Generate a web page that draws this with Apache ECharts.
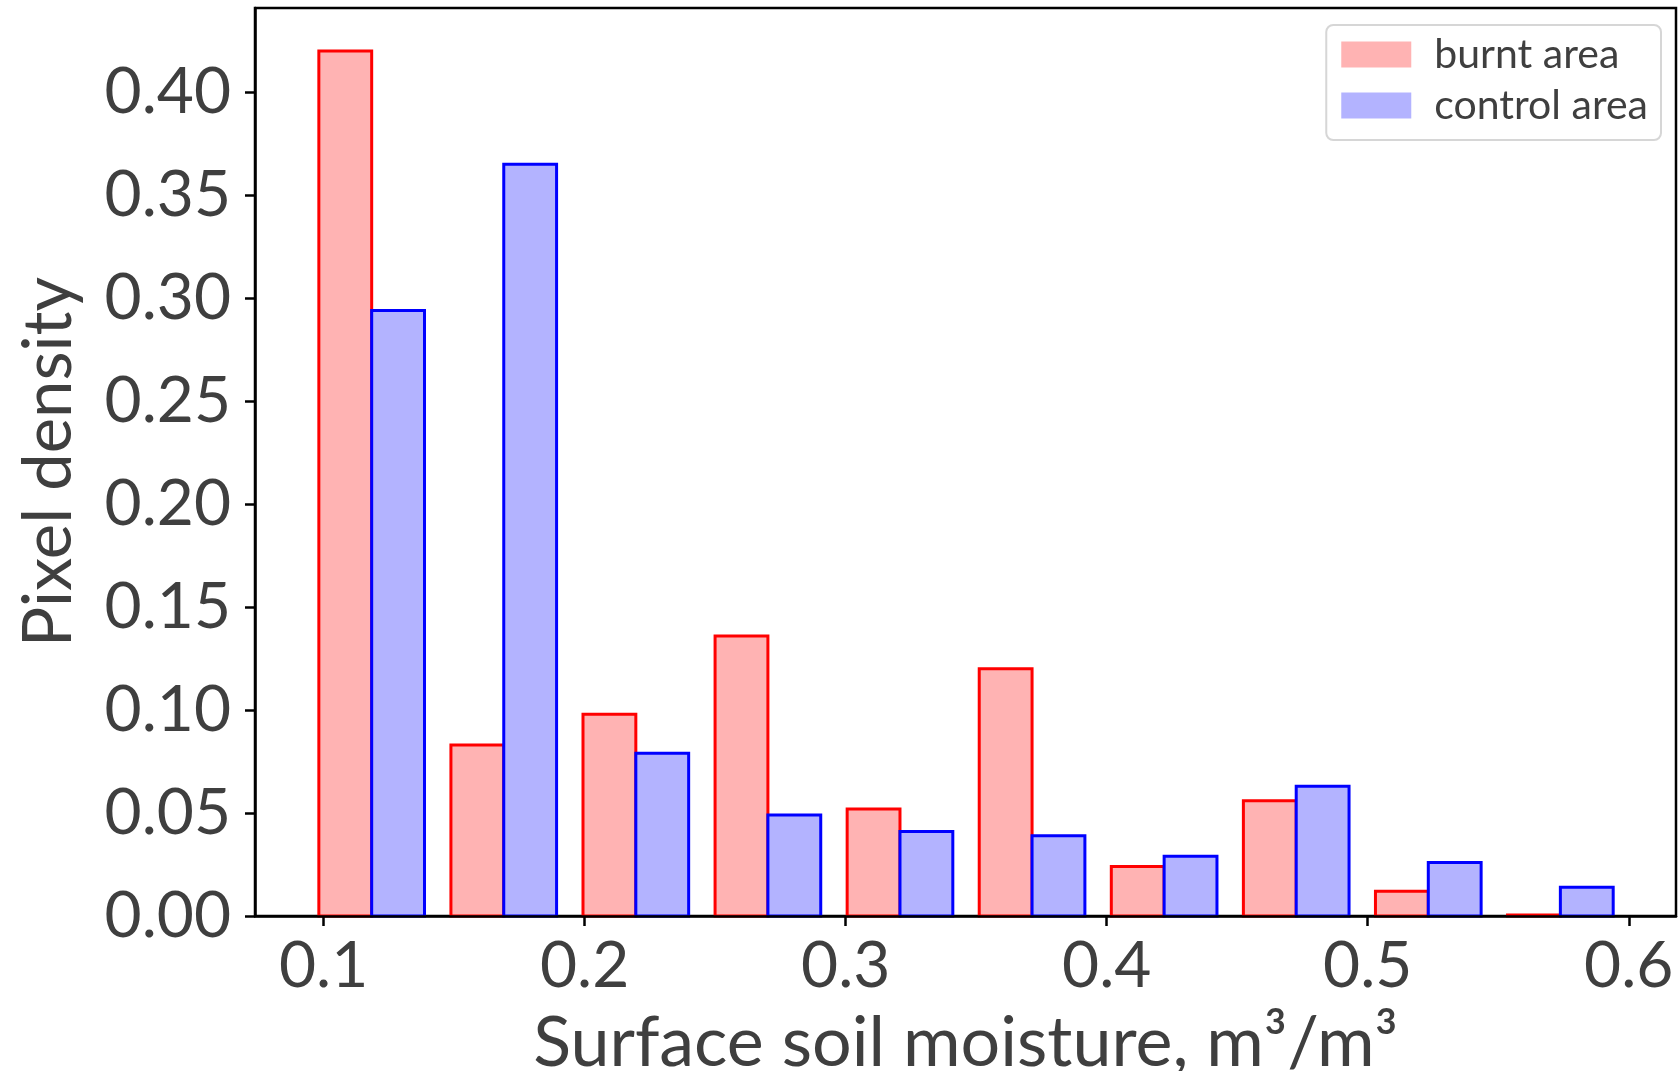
<!DOCTYPE html>
<html>
<head>
<meta charset="utf-8">
<script src="https://cdn.jsdelivr.net/npm/echarts@6/dist/echarts.min.js"></script>
<style>
  html, body { margin: 0; padding: 0; background: #fff; }
  #chart { width: 1679px; height: 1071px; }
</style>
</head>
<body>
<div id="chart"></div>
<script>
// Histogram bin edges (surface soil moisture, m3/m3)
const binEdges = [0.0931, 0.1437, 0.1943, 0.2449, 0.2955, 0.3461, 0.3967, 0.4473, 0.4979, 0.5485, 0.5991];
// Fraction of pixels per bin
const burntArea   = [0.420, 0.083, 0.098, 0.136, 0.052, 0.120, 0.024, 0.056, 0.012, 0.0005];
const controlArea = [0.294, 0.365, 0.079, 0.049, 0.041, 0.039, 0.029, 0.063, 0.026, 0.014];
const seriesNames = ['burnt area', 'control area'];
const xTicks = [0.1, 0.2, 0.3, 0.4, 0.5, 0.6];
const yTicks = [0.00, 0.05, 0.10, 0.15, 0.20, 0.25, 0.30, 0.35, 0.40];

const TEXT = '#3f3f3f';
const FONT = 'Lato, "Noto Sans", sans-serif';
const fills = ['#ffb3b3', '#b3b3ff'];
const edges = ['#ff0000', '#0000ff'];
const EDGE_W = 3;

// Two side-by-side bars share 80% of each bin
const barFraction = 0.8;

function barData(values, slot) {
  return values.map((v, i) => {
    const lo = binEdges[i], hi = binEdges[i + 1];
    const w = hi - lo;
    const start = lo + w * (1 - barFraction) / 2 + slot * w * barFraction / 2;
    return [start, start + w * barFraction / 2, v];
  });
}

function makeSeries(name, values, slot) {
  return {
    name: name,
    type: 'custom',
    z: 2 + slot,
    itemStyle: { color: fills[slot], borderColor: edges[slot], borderWidth: EDGE_W },
    renderItem: function (params, api) {
      const p0 = api.coord([api.value(0), api.value(2)]);
      const p1 = api.coord([api.value(1), 0]);
      return {
        type: 'rect',
        shape: { x: p0[0], y: p0[1], width: p1[0] - p0[0], height: p1[1] - p0[1] },
        style: { fill: fills[slot], stroke: edges[slot], lineWidth: EDGE_W }
      };
    },
    encode: { x: [0, 1], y: 2 },
    data: barData(values, slot)
  };
}

const chart = echarts.init(document.getElementById('chart'));
chart.setOption({
  animation: false,
  backgroundColor: '#fff',
  textStyle: { fontFamily: FONT, color: TEXT },
  grid: {
    left: 255, right: 3, top: 8, bottom: 155,
    outerBoundsMode: 'none',
    containLabel: false,
    show: true, borderColor: '#000', borderWidth: 2.5, backgroundColor: 'transparent'
  },
  legend: {
    orient: 'vertical',
    right: 18, top: 25,
    icon: 'rect',
    itemWidth: 70, itemHeight: 26, itemGap: 10,
    padding: [9, 13, 14, 15],
    borderColor: '#d6d6d6', borderWidth: 2, borderRadius: 7,
    backgroundColor: '#fff',
    textStyle: { fontFamily: FONT, fontSize: 41, color: TEXT, padding: [0, 0, 0, 18] },
    data: seriesNames.map((n, i) => ({ name: n, itemStyle: { color: fills[i], borderWidth: 0 } }))
  },
  xAxis: {
    type: 'value',
    min: 0.0737, max: 0.6181,
    z: 10,
    name: 'Surface soil moisture, m\u00B3/m\u00B3',
    nameLocation: 'middle',
    nameGap: 92,
    nameTextStyle: { fontFamily: FONT, fontSize: 70, color: TEXT },
    axisLine: { show: true, onZero: false, lineStyle: { color: '#000', width: 2.5 } },
    axisTick: { show: true, inside: false, length: 10, lineStyle: { color: '#000', width: 2.5 }, customValues: xTicks },
    axisLabel: { customValues: xTicks, margin: 18, fontFamily: FONT, fontSize: 64, color: TEXT,
      formatter: v => v.toFixed(1) },
    splitLine: { show: false }
  },
  yAxis: {
    type: 'value',
    min: 0, max: 0.4409,
    z: 10,
    name: 'Pixel density',
    nameLocation: 'middle',
    nameGap: 172,
    nameTextStyle: { fontFamily: FONT, fontSize: 67, color: TEXT },
    axisLine: { show: true, lineStyle: { color: '#000', width: 2.5 } },
    axisTick: { show: true, inside: false, length: 10, lineStyle: { color: '#000', width: 2.5 }, customValues: yTicks },
    axisLabel: { customValues: yTicks, margin: 24, fontFamily: FONT, fontSize: 64, color: TEXT,
      formatter: v => v.toFixed(2) },
    splitLine: { show: false }
  },
  series: [
    makeSeries(seriesNames[0], burntArea, 0),
    makeSeries(seriesNames[1], controlArea, 1)
  ]
});
</script>
</body>
</html>
